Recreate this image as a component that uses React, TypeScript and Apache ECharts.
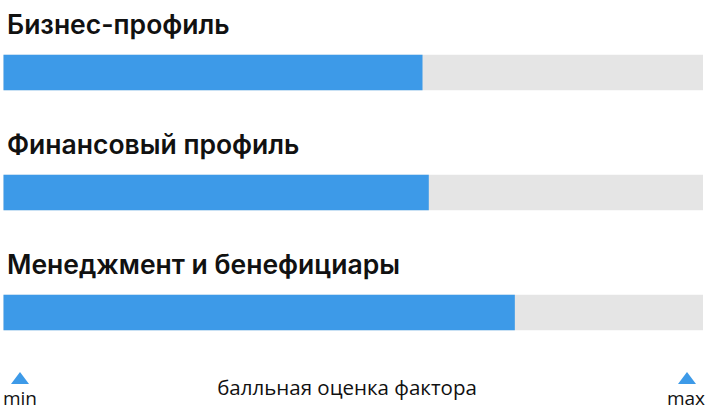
import React, { useEffect, useRef } from 'react';
import * as echarts from 'echarts';

const categories = ['Бизнес-профиль', 'Финансовый профиль', 'Менеджмент и бенефициары'];
const scores = [59.9, 60.8, 73.1];
const scaleEnds = ['min', 'max'];
const axisTitle = 'балльная оценка фактора';

const BLUE = '#3d9ae8';

const App: React.FC = () => {
  const chartRef = useRef<HTMLDivElement>(null);

  useEffect(() => {
    if (!chartRef.current) return;
    const chart = echarts.init(chartRef.current, undefined, { renderer: 'svg' });

    const marker = (cx: number) => ({
      type: 'polygon',
      shape: { points: [[cx - 9, 384], [cx + 9, 384], [cx, 372]] },
      style: { fill: BLUE },
      silent: true
    });
    const endLabel = (cx: number, text: string) => ({
      type: 'text',
      x: cx,
      y: 398,
      style: {
        text,
        fill: '#111',
        font: '19px "Open Sans"',
        align: 'center',
        verticalAlign: 'middle'
      }
    });

    chart.setOption({
      animation: false,
      grid: { left: 3.5, right: 3, top: 12.5, height: 360, containLabel: false },
      xAxis: { type: 'value', min: 0, max: 100, show: false },
      yAxis: { type: 'category', data: categories, inverse: true, show: false },
      series: [
        {
          type: 'bar',
          data: scores,
          barWidth: 35.5,
          itemStyle: { color: BLUE },
          showBackground: true,
          backgroundStyle: { color: '#e5e5e5' },
          label: {
            show: true,
            position: [3.5, -31],
            verticalAlign: 'middle',
            align: 'left',
            formatter: '{b}',
            color: '#111',
            fontSize: 26.5,
            fontWeight: 600,
            fontFamily: 'Inter'
          }
        }
      ],
      graphic: [
        marker(20),
        marker(687),
        endLabel(20, scaleEnds[0]),
        endLabel(686, scaleEnds[1]),
        {
          type: 'text',
          x: 347,
          y: 387,
          style: {
            text: axisTitle,
            fill: '#111',
            font: '20.5px "Open Sans"',
            align: 'center',
            verticalAlign: 'middle'
          }
        }
      ]
    });

    return () => {
      chart.dispose();
    };
  }, []);

  return (
    <div
      ref={chartRef}
      style={{ position: 'fixed', left: 0, top: 0, width: '706px', height: '417px', background: '#fff' }}
    />
  );
};

export default App;
